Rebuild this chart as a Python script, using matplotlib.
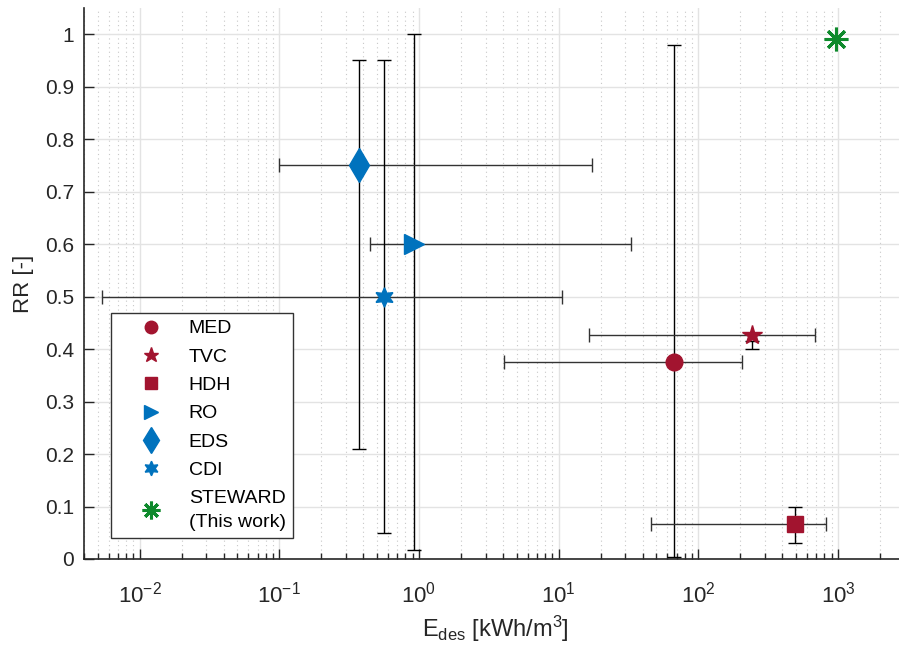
import numpy as np
import matplotlib
matplotlib.use('Agg')
import matplotlib.pyplot as plt
from matplotlib.ticker import LogLocator, FixedLocator, NullFormatter

plt.rcParams['font.family'] = ['Liberation Sans', 'DejaVu Sans']
plt.rcParams['mathtext.fontset'] = 'custom'
plt.rcParams['mathtext.rm'] = 'Liberation Sans'
plt.rcParams['mathtext.it'] = 'Liberation Sans'

# Data
names = ['MED', 'TVC', 'HDH', 'RO', 'EDS', 'CDI']
x_val = [67.4, 243, 494, 0.916, 0.373, 0.565]
y_val = [0.375, 0.4267, 0.0673, 0.6, 0.75, 0.5]
x_lo = [4.04, 16.4, 45.7, 0.446, 0.1, 0.00542]
x_hi = [204, 687, 819, 32.8, 17.3, 10.6]
y_lo = [0.004, 0.40, 0.030, 0.017, 0.21, 0.05]
y_hi = [0.98, 0.416, 0.0997, 1.0, 0.95, 0.95]

steward_x = 970
steward_y = 0.99

red = '#A2142F'
blue = '#0072BD'
green = '#0E8A2C'
colors = [red, red, red, blue, blue, blue]
markers = ['o', '*', 's', '>', 'd', (6, 1, 0)]
msizes = [12, 15, 11.5, 14, 17, 14]
axcol = '#262626'

fig = plt.figure(figsize=(8.99, 6.49), dpi=100)
ax = fig.add_axes([84/899, 90/649, 820/899, 551/649])

# Error bars
for i in range(len(names)):
    ax.errorbar(x_val[i], (y_lo[i] + y_hi[i]) / 2, yerr=(y_hi[i] - y_lo[i]) / 2,
                fmt='none', ecolor='black', elinewidth=1, capsize=4.7, capthick=1, zorder=3)
    ax.errorbar(x_val[i], y_val[i], xerr=[[x_val[i] - x_lo[i]], [x_hi[i] - x_val[i]]],
                fmt='none', ecolor='#333333', elinewidth=1, capsize=4.7, capthick=1, zorder=3)

# Markers
for i in range(len(names)):
    ax.plot(x_val[i], y_val[i], linestyle='none', marker=markers[i], markersize=msizes[i],
            color=colors[i], markeredgecolor=colors[i], label=names[i], zorder=4)
ax.plot(steward_x, steward_y, linestyle='none', marker=(8, 2, 0), markersize=17,
        markeredgewidth=2.2, color=green, label='STEWARD\n(This work)', zorder=4)

ax.set_xscale('log')
ax.set_xlim(0.004, 2970)
ax.set_ylim(0, 1.05)

ax.set_yticks(np.arange(0, 1.01, 0.1))
ax.set_yticklabels(['0', '0.1', '0.2', '0.3', '0.4', '0.5', '0.6', '0.7', '0.8', '0.9', '1'])
ax.xaxis.set_major_locator(FixedLocator([1e-2, 1e-1, 1, 10, 100, 1000]))
ax.set_xticklabels([r'$10^{-2}$', r'$10^{-1}$', r'$10^{0}$', r'$10^{1}$', r'$10^{2}$', r'$10^{3}$'])
ax.xaxis.set_minor_locator(LogLocator(base=10, subs=np.arange(2, 10), numticks=20))
ax.xaxis.set_minor_formatter(NullFormatter())

ax.grid(True, which='major', color='#e3e3e3', linewidth=1, zorder=0)
ax.grid(True, which='minor', axis='x', color='#c8c8c8', linestyle=(0, (1, 3)), linewidth=0.8, zorder=0)
ax.set_axisbelow(True)

for s in ['top', 'right']:
    ax.spines[s].set_visible(False)
for s in ['left', 'bottom']:
    ax.spines[s].set_color(axcol)
    ax.spines[s].set_linewidth(1.2)

ax.tick_params(which='major', direction='in', length=7, width=1, colors=axcol, labelsize=15, pad=7)
ax.tick_params(which='minor', direction='in', length=4, width=1, colors=axcol)
ax.tick_params(axis='x', which='major', pad=16, labelsize=16)

ax.set_ylabel('RR [-]', fontsize=16, color=axcol, labelpad=8)
ax.set_xlabel(r'E$_{\mathrm{des}}$ [kWh/m$^{3}$]', fontsize=17, color=axcol)
ax.xaxis.set_label_coords((495 - 84) / 820, -0.1)

leg = ax.legend(loc='upper left', bbox_to_anchor=((111 - 84) / 820, (559 - 313) / 551),
                borderaxespad=0, fontsize=14, frameon=True, fancybox=False, edgecolor='#333333',
                markerscale=0.75, handletextpad=0.25, borderpad=0.35, labelspacing=0.55,
                handlelength=3.4, framealpha=1)
leg.get_frame().set_linewidth(1)
for t in leg.get_texts():
    t.set_color('black')
    t.set_linespacing(1.6)

fig.savefig('out.png', dpi=100)
